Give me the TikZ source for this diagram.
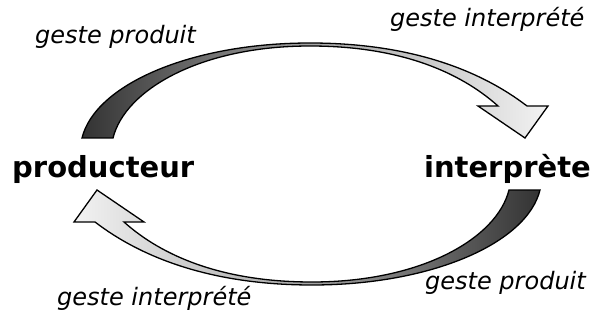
\documentclass[tikz,border=0pt]{standalone}
\usepackage{fontspec}
\setmainfont{DejaVu Sans}
\begin{document}
\begin{tikzpicture}[x=1pt,y=-1pt,
  lbl/.style={inner sep=0pt,font=\fontsize{24}{28}\selectfont\itshape},
  actor/.style={inner sep=0pt,font=\fontsize{29}{34}\selectfont\bfseries},
  blockarrow/.style={draw=black,line width=1.3pt,line join=miter}]
\useasboundingbox (0,0) rectangle (606,321);
% top arrow: producteur -> interprete
\path[blockarrow,left color=black!80,right color=black!5,middle color=black!35]
  (82,138) .. controls (95,85) and (190,43) .. (310,43)
  .. controls (410,43) and (480,70) .. (527,106)
  -- (548,106) -- (525,138) -- (478,106) -- (498,106)
  .. controls (460,72) and (400,46) .. (310,46)
  .. controls (200,46) and (125,90) .. (113,138) -- cycle;
% bottom arrow: interprete -> producteur
\path[blockarrow,right color=black!80,left color=black!5,middle color=black!35]
  (540,190) .. controls (527,243) and (432,285) .. (312,285)
  .. controls (212,285) and (142,258) .. (95,222)
  -- (74,222) -- (97,190) -- (144,222) -- (124,222)
  .. controls (162,256) and (222,282) .. (312,282)
  .. controls (422,282) and (497,238) .. (509,190) -- cycle;
\node[actor,anchor=base west] (prod) at (12,177) {producteur};
\node[actor,anchor=base east] (interp) at (591,177) {interprète};
\node[lbl,anchor=base west] (gp1) at (35,44) {geste produit};
\node[lbl,anchor=base west] (gi1) at (390,27) {geste interprété};
\node[lbl,anchor=base west] (gi2) at (57,305) {geste interprété};
\node[lbl,anchor=base west] (gp2) at (425,289) {geste produit};
\end{tikzpicture}
\end{document}
